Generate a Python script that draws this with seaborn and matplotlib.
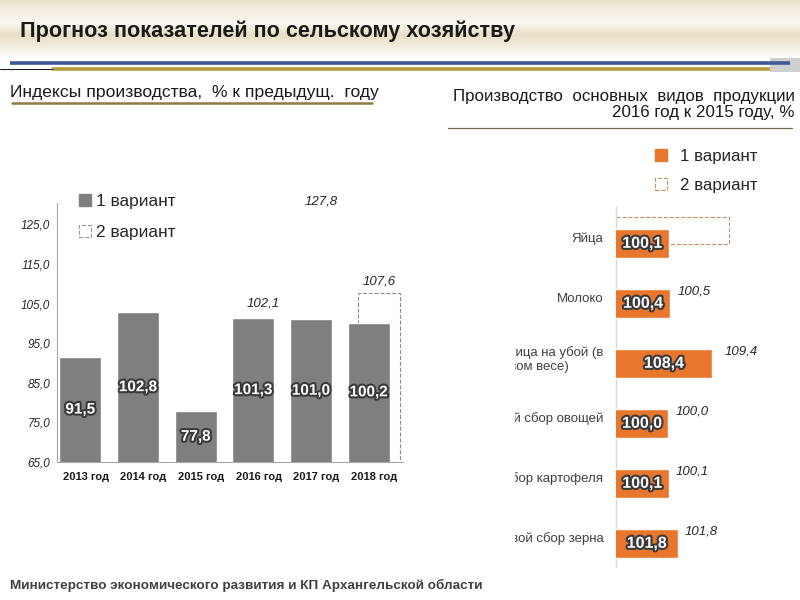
import numpy as np
import pandas as pd
import matplotlib
matplotlib.use("Agg")
import matplotlib.pyplot as plt
import matplotlib.patheffects as pe
from matplotlib.patches import Patch
from matplotlib.colors import LinearSegmentedColormap
from matplotlib.transforms import Bbox, TransformedBbox
import seaborn as sns

# --- данные: индексы производства, % к предыдущему году ---
years = ['2013 год', '2014 год', '2015 год', '2016 год', '2017 год', '2018 год']
idx_var1 = [91.5, 102.8, 77.8, 101.3, 101.0, 100.2]
idx_var2 = [np.nan, np.nan, np.nan, 102.1, 127.8, 107.6]
idx_var2_box = [False, False, False, False, False, True]
idx_ticks = [65, 75, 85, 95, 105, 115, 125]

# --- данные: производство основных видов продукции 2016 к 2015, % ---
products = ['Яйца', 'Молоко', 'Скот и птица на убой (в\nживом весе)',
            'Валовой сбор овощей', 'Валовой сбор картофеля', 'Валовой сбор зерна']
prod_var1 = [100.1, 100.4, 108.4, 100.0, 100.1, 101.8]
prod_var2 = [111.6, 100.5, 109.4, 100.0, 100.1, 101.8]
prod_var2_box = [True, False, False, False, False, False]
prod_var2_label = [False, True, True, True, True, True]

GRAY = '#7f7f7f'
ORANGE = '#e8762d'


def fmt(v):
    return f"{v:.1f}".replace('.', ',')


sns.set_style("white")
plt.rcParams['font.family'] = ['Liberation Sans', 'DejaVu Sans']

fig = plt.figure(figsize=(8, 6), dpi=100)

# фон и шапка слайда (координаты в пикселях)
bg = fig.add_axes([0, 0, 1, 1])
bg.set_xlim(0, 800)
bg.set_ylim(600, 0)
bg.axis('off')
cmap = LinearSegmentedColormap.from_list(
    'hdr', ['#e9e1c9', '#f5f0e4', '#faf7f0', '#e8dfc5', '#f2ecdc', '#ffffff'])
bg.imshow(np.linspace(0, 1, 60).reshape(-1, 1), cmap=cmap, aspect='auto',
          extent=[0, 800, 58, 0], zorder=0)
bg.text(20, 31, 'Прогноз показателей по сельскому хозяйству', fontsize=15.6,
        fontweight='bold', color='#1a1a1a', va='center', ha='left')
bg.plot([10, 790], [63, 63], color='#3d5a96', lw=2.6, solid_capstyle='butt')
bg.plot([52, 770], [68.5, 68.5], color='#b39b3c', lw=2.6, solid_capstyle='butt')
bg.plot([0, 52], [68.5, 68.5], color='#222222', lw=0.8)
bg.add_patch(plt.Rectangle((770, 58), 30, 14, color='#b0b0b0', alpha=0.6, lw=0))

bg.text(10, 92, 'Индексы производства,  % к предыдущ.  году', fontsize=12.6,
        color='#1a1a1a', va='center')
bg.plot([12, 372], [103, 103], color='#8f7d3a', lw=1.8)

bg.text(795, 97, 'Производство  основных  видов  продукции', fontsize=12.2,
        color='#1a1a1a', va='center', ha='right')
bg.text(795, 113, '2016 год к 2015 году, %', fontsize=12.2,
        color='#1a1a1a', va='center', ha='right')
bg.plot([448, 792], [128, 128], color='#6e684c', lw=0.9)

bg.text(10, 585, 'Министерство экономического развития и КП Архангельской области',
        fontsize=9.7, fontweight='bold', color='#404040', va='center')

# --- CHART 1: индексы производства ---
ax1 = fig.add_axes([57 / 800, 1 - 462 / 600, 346 / 800, 259 / 600])
df1 = pd.DataFrame({'year': years, 'v': idx_var1})
df1b = pd.DataFrame({'year': years, 'v': idx_var2})[idx_var2_box]

sns.barplot(data=df1b, x='year', y='v', order=years, fill=False, color='#8c8c8c',
            linestyle='--', linewidth=0.8, width=0.73, errorbar=None, ax=ax1, zorder=2)
n_box = len(ax1.patches)
sns.barplot(data=df1, x='year', y='v', order=years, color=GRAY, saturation=1,
            width=0.73, errorbar=None, ax=ax1, zorder=3)
for k, p in enumerate(ax1.patches):
    p.set_x(p.get_x() + (0.08 if k < n_box else -0.095))

ax1.set_xlim(-0.5, 5.5)
ax1.set_ylim(65, 130.4)
ax1.set_yticks(idx_ticks)
ax1.set_yticklabels([fmt(t) for t in idx_ticks], fontsize=8.5, style='italic',
                    color='#262626')
ax1.set_xticks(range(len(years)))
ax1.set_xticklabels(years, fontsize=8, fontweight='bold', color='#1a1a1a')
ax1.set_xticks(np.arange(-0.5, len(years), 1), minor=True)
ax1.tick_params(axis='x', which='major', length=0, pad=7)
ax1.tick_params(axis='x', which='minor', length=4, direction='out', color='#a6a6a6')
ax1.tick_params(axis='y', length=3, direction='out', color='#a6a6a6', pad=2)
ax1.set_xlabel('')
ax1.set_ylabel('')
for s in ['top', 'right']:
    ax1.spines[s].set_visible(False)
for s in ['left', 'bottom']:
    ax1.spines[s].set_color('#a6a6a6')
    ax1.spines[s].set_linewidth(0.8)
ax1.patch.set_alpha(0)

stroke = [pe.withStroke(linewidth=3, foreground='#3a3a3a')]
for i, v in enumerate(idx_var1):
    ax1.text(i - 0.095, (65 + v) / 2, fmt(v), ha='center', va='center',
             color='white', fontsize=11, fontweight='bold', path_effects=stroke)
for i, v in enumerate(idx_var2):
    if not np.isnan(v):
        ax1.annotate(fmt(v), (i + 0.08, v), xytext=(0, 4), textcoords='offset points',
                     ha='center', va='bottom', fontsize=9.5, style='italic',
                     color='#262626', annotation_clip=False)

fig.legend(handles=[Patch(facecolor=GRAY, edgecolor=GRAY),
                    Patch(facecolor='white', edgecolor='#999999', linestyle='--', lw=0.8)],
           labels=['1 вариант', '2 вариант'], loc='upper left',
           bbox_to_anchor=(79 / 800, 1 - 194 / 600), frameon=False, fontsize=12.4,
           handlelength=0.7, handleheight=0.7, handletextpad=0.3, labelspacing=0.92,
           borderaxespad=0, borderpad=0)

# --- CHART 2: производство основных видов продукции ---
ax2 = fig.add_axes([616 / 800, 1 - 567 / 600, 146 / 800, 360 / 600])
df2 = pd.DataFrame({'product': products, 'v': prod_var1})
df2b = pd.DataFrame({'product': products, 'v': prod_var2})[prod_var2_box]

sns.barplot(data=df2b, y='product', x='v', order=products, orient='h', fill=False,
            color='#c98f60', linestyle='--', linewidth=0.8, width=0.44,
            errorbar=None, ax=ax2, zorder=2)
n_box = len(ax2.patches)
sns.barplot(data=df2, y='product', x='v', order=products, orient='h', color=ORANGE,
            saturation=1, width=0.48, errorbar=None, ax=ax2, zorder=3)
for k, p in enumerate(ax2.patches):
    p.set_y(p.get_y() + (-0.11 if k < n_box else 0.105))

ax2.set_xlim(90, 117.9)
ax2.set_ylim(5.5, -0.5)
ax2.set_xticks([])
ax2.set_xlabel('')
ax2.set_ylabel('')
ax2.tick_params(axis='y', length=0, pad=9)
for s in ['top', 'right', 'bottom']:
    ax2.spines[s].set_visible(False)
ax2.spines['left'].set_color('#d9d9d9')
ax2.spines['left'].set_linewidth(1)
ax2.patch.set_alpha(0)

# подписи категорий обрезаны слева, как на слайде
clip = TransformedBbox(Bbox.from_extents(515 / 800, 0, 1, 1), fig.transFigure)
for lbl in ax2.get_yticklabels():
    lbl.set_fontsize(9.5)
    lbl.set_color('#404040')
    lbl.set_multialignment('center')
    lbl.set_clip_box(clip)
    lbl.set_clip_on(True)

for i, v in enumerate(prod_var1):
    ax2.text((90 + v) / 2, i + 0.105, fmt(v), ha='center', va='center',
             color='white', fontsize=11.5, fontweight='bold', path_effects=stroke)
for i, v in enumerate(prod_var2):
    if prod_var2_label[i]:
        ax2.annotate(fmt(v), (v, i - 0.1), xytext=(5, 0), textcoords='offset points',
                     ha='left', va='center', fontsize=9.5, style='italic',
                     color='#262626', annotation_clip=False)

fig.legend(handles=[Patch(facecolor=ORANGE, edgecolor=ORANGE),
                    Patch(facecolor='white', edgecolor='#c98f60', linestyle='--', lw=0.8)],
           labels=['1 вариант', '2 вариант'], loc='upper left',
           bbox_to_anchor=(655 / 800, 1 - 149 / 600), frameon=False, fontsize=12.2,
           handlelength=0.7, handleheight=0.7, handletextpad=0.8, labelspacing=0.82,
           borderaxespad=0, borderpad=0)

fig.savefig('out.png', dpi=100)
